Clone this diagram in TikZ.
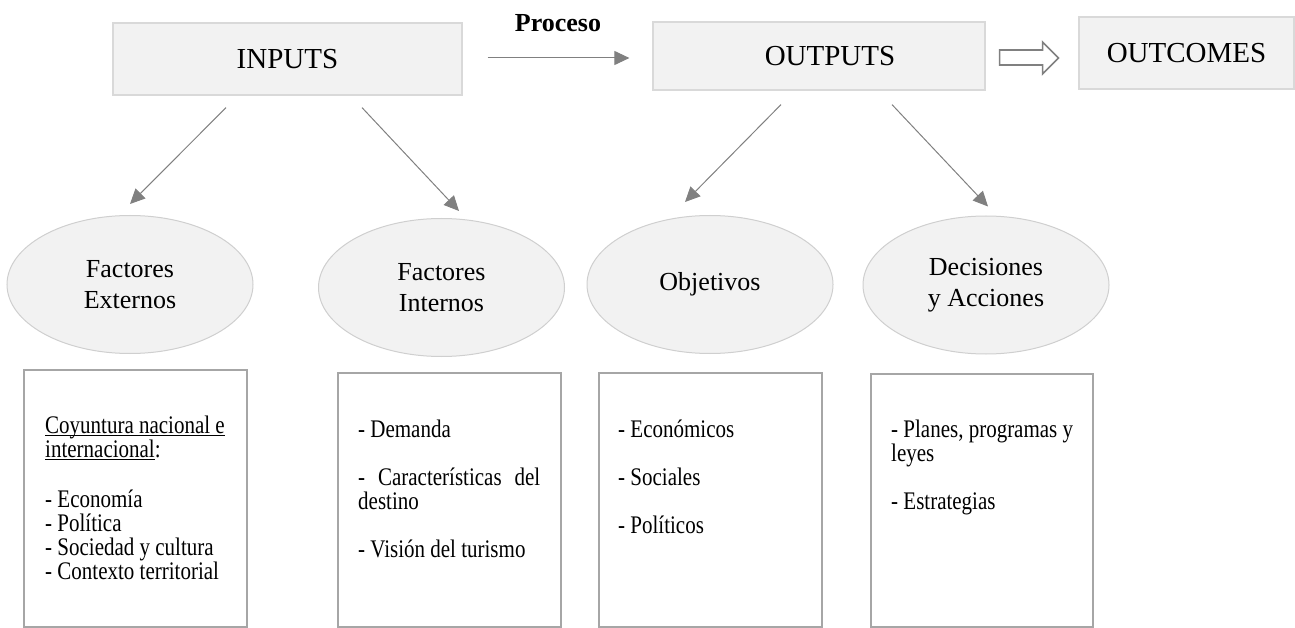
\documentclass[tikz,border=0pt]{standalone}
\usepackage{fontspec}
\setmainfont{Liberation Serif}
\newfontfamily\listfont[FakeStretch=0.83]{Liberation Serif}
\usetikzlibrary{arrows.meta,shapes.geometric,calc}
\definecolor{boxfill}{HTML}{F2F2F2}
\definecolor{boxline}{HTML}{D9D9D9}
\definecolor{ellline}{HTML}{CFCFCF}
\definecolor{listline}{HTML}{A6A6A6}
\definecolor{arrowgray}{HTML}{808080}
% underline that sits close to the baseline
\newcommand\ulinetext[1]{\leavevmode\setbox0\hbox{#1}\rlap{\rule[-2.6pt]{\wd0}{0.9pt}}\box0}
\begin{document}
\begin{tikzpicture}[x=1pt,y=-1pt,
  topbox/.style={draw=boxline,line width=1.2pt,fill=boxfill,inner sep=0pt,
    font=\fontsize{29}{34}\selectfont},
  factor/.style={ellipse,draw=ellline,line width=1pt,fill=boxfill,
    minimum width=246pt,minimum height=138pt,inner sep=0pt,align=center,
    font=\fontsize{26}{31}\selectfont},
  listbox/.style={draw=listline,line width=2pt,fill=white,inner sep=0pt},
  listtext/.style={anchor=base west,inner sep=0pt,
    font=\listfont\fontsize{25.3}{24}\selectfont},
  link/.style={draw=arrowgray,line width=1pt,-{Triangle[length=15pt,width=14pt]}}]

\useasboundingbox (0,0) rectangle (1295,628);

% top row
\node[topbox,minimum width=349pt,minimum height=72pt] (inputs) at (287.5,59) {INPUTS};
\node[topbox,minimum width=332pt,minimum height=68pt] (outputs) at (819,56) {\hspace*{22pt}OUTPUTS};
\node[topbox,minimum width=215pt,minimum height=72pt] (outcomes) at (1186.5,53) {OUTCOMES};

\node[anchor=base,inner sep=0pt,font=\fontsize{26}{30}\selectfont\bfseries] (proceso) at (558,32) {Proceso};
\draw[link] ($(inputs.east)+(25,-1)$) -- ($(outputs.west)+(-23,2)$);

% hollow arrow towards the outcomes
\draw[draw=arrowgray,line width=1.6pt,fill=white,line join=miter]
  ($(outputs.east)+(14,-6)$) -- ++(43,0) -- ++(0,-8) -- ++(16,16)
  -- ++(-16,16) -- ++(0,-9) -- ++(-43,0) -- cycle;

% factor ellipses
\node[factor] (fe) at (130,284.5) {Factores\\Externos};
\node[factor] (fi) at (441.5,287.5) {Factores\\Internos};
\node[factor] (ob) at (710,284.5) {Objetivos};
\node[factor] (da) at (986,285) {Decisiones\\y Acciones};

\draw[link] ($(inputs.south)+(-61.5,12)$) -- ($(fe.north)+(0,-11)$);
\draw[link] ($(inputs.south)+(74.5,12)$) -- ($(fi.north)+(17.5,-7)$);
\draw[link] ($(outputs.south)+(-38,14)$) -- ($(ob.north)+(-25,-13)$);
\draw[link] ($(outputs.south)+(73,14)$) -- ($(da.north)+(2,-9)$);

% detail boxes
\node[listbox,minimum width=223pt,minimum height=257pt] (b1) at (135.5,498.5) {};
\node[listbox,minimum width=223pt,minimum height=254pt] (b2) at (449.5,500) {};
\node[listbox,minimum width=223pt,minimum height=254pt] (b3) at (710.5,500) {};
\node[listbox,minimum width=222pt,minimum height=253pt] (b4) at (982,500.5) {};

\node[listtext] (t1) at ($(b1.north west)+(22,64)$) {\parbox[t]{195pt}{\raggedright
  \ulinetext{Coyuntura nacional e}\\
  \ulinetext{internacional}:\\[26pt]
  - Economía\\
  - Política\\
  - Sociedad y cultura\\
  - Contexto territorial}};
\node[listtext] (t2) at ($(b2.north west)+(21,65)$) {\parbox[t]{190pt}{\raggedright
  - Demanda\\[24pt]
  \makebox[182pt][s]{- Características del}\\
  destino\\[24pt]
  - Visión del turismo}};
\node[listtext] (t3) at ($(b3.north west)+(20,65)$) {\parbox[t]{190pt}{\raggedright
  - Económicos\\[24pt]
  - Sociales\\[24pt]
  - Políticos}};
\node[listtext] (t4) at ($(b4.north west)+(21,64)$) {\parbox[t]{195pt}{\raggedright
  - Planes, programas y\\
  leyes\\[24pt]
  - Estrategias}};

\end{tikzpicture}
\end{document}
